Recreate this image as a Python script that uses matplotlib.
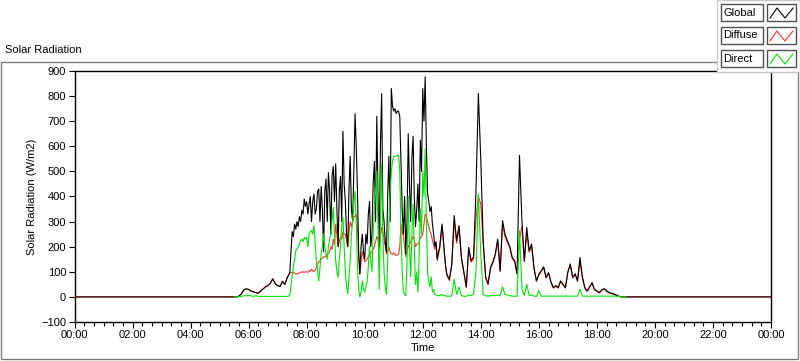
import matplotlib.pyplot as plt
from matplotlib.patches import Rectangle
from matplotlib.ticker import MultipleLocator, FuncFormatter

plt.rcParams['font.family'] = ['Liberation Sans', 'DejaVu Sans']

# sampling: 05:30-07:25 every 5 min, 07:30-12:57.5 every 2.5 min, 13:00-19:00 every 5 min
segments = [(330, 5, 24), (450, 2.5, 132), (780, 5, 73)]

global_w = [
    # 05:30 - 07:25
    0, 0, 3, 12, 28, 32, 30, 24, 20, 17, 15, 24, 32, 40, 45, 55, 72, 52, 45, 42, 62, 50, 78, 95,
    # 07:30 - 12:57.5
    260, 240, 290, 270, 300, 280, 320, 300, 345, 330, 390, 360,
    380, 330, 370, 400, 300, 380, 410, 330, 350, 420, 430, 300, 440, 350, 180, 420, 470, 300, 495, 420, 250, 480, 520, 380,
    530, 350, 200, 420, 480, 300, 660, 450, 380, 250, 200, 430, 560, 350, 300, 500, 730, 600, 420, 180, 92, 200, 250, 180,
    150, 250, 211, 330, 380, 200, 250, 450, 540, 300, 720, 400, 200, 600, 810, 350, 300, 220, 180, 400, 560, 300, 830, 760,
    740, 750, 730, 740, 740, 720, 540, 350, 250, 400, 172, 300, 650, 450, 300, 550, 640, 400, 280, 350, 450, 300, 624, 500,
    830, 700, 877, 600, 411, 380, 340, 360, 290, 250, 200, 220, 150, 180, 197, 250, 290, 230, 172, 120, 90, 80, 70, 100,
    # 13:00 - 19:00
    130, 324, 224, 284, 157, 100, 40, 197, 144, 160, 420, 810,
    544, 224, 80, 52, 117, 140, 172, 230, 104, 304, 250, 224,
    200, 157, 144, 92, 564, 304, 144, 277, 184, 211, 117, 64,
    90, 104, 120, 77, 97, 60, 37, 45, 37, 64, 50, 37,
    100, 131, 77, 92, 64, 157, 80, 37, 24, 40, 57, 30,
    24, 17, 28, 33, 24, 18, 15, 12, 8, 3, 0, 0,
    0,
]

diffuse_w = [
    0, 0, 3, 12, 28, 32, 30, 24, 20, 17, 15, 24, 32, 40, 45, 55, 72, 52, 45, 42, 62, 50, 78, 95,
    98, 96, 95, 92, 92, 94, 95, 97, 100, 99, 98, 100,
    100, 98, 105, 102, 110, 105, 100, 108, 115, 130, 140, 145, 150, 155, 160, 158, 165, 170, 172, 180, 200, 190, 230, 210,
    290, 250, 200, 220, 240, 230, 260, 250, 251, 220, 200, 250, 300, 280, 300, 320, 320, 330, 277, 160, 90, 140, 180, 160,
    140, 145, 150, 160, 170, 175, 180, 190, 200, 220, 240, 230, 190, 240, 277, 260, 230, 200, 170, 180, 200, 180, 172, 170,
    175, 170, 165, 168, 170, 200, 290, 260, 240, 200, 160, 180, 200, 210, 220, 230, 240, 230, 200, 210, 210, 220, 237, 240,
    250, 290, 330, 320, 300, 280, 260, 250, 224, 210, 190, 200, 145, 170, 190, 230, 280, 220, 165, 110, 85, 75, 65, 95,
    125, 300, 214, 270, 150, 95, 37, 190, 138, 150, 310, 400,
    370, 215, 75, 48, 112, 135, 166, 222, 100, 290, 240, 216,
    195, 153, 140, 89, 225, 280, 139, 250, 179, 203, 113, 62,
    85, 101, 117, 75, 94, 58, 35, 43, 35, 62, 48, 35,
    97, 128, 75, 90, 62, 140, 78, 35, 22, 38, 55, 28,
    22, 15, 26, 31, 22, 16, 13, 10, 6, 2, 0, 0,
    0,
]

direct_w = [
    0, 0, 1, 2, 5, 4, 6, 4, 2, 5, 2, 2, 2, 2, 2, 2, 2, 2, 2, 2, 2, 2, 2, 5,
    80, 120, 150, 184, 190, 200, 210, 224, 230, 220, 237, 230,
    237, 200, 250, 260, 264, 250, 284, 220, 144, 100, 64, 120, 172, 200, 251, 200, 172, 150, 200, 230, 250, 300, 357, 250,
    144, 100, 77, 150, 200, 280, 317, 200, 100, 40, 12, 80, 144, 250, 300, 380, 420, 300, 120, 30, 0, 20, 64, 30,
    20, 40, 60, 120, 200, 150, 100, 250, 350, 420, 500, 300, 30, 300, 530, 250, 100, 40, 10, 150, 300, 420, 500, 540,
    560, 560, 560, 565, 565, 500, 250, 100, 20, 10, 5, 150, 400, 200, 80, 250, 370, 200, 50, 100, 20, 150, 350, 250,
    500, 400, 590, 300, 100, 60, 40, 80, 20, 30, 10, 8, 5, 5, 5, 8, 10, 6, 5, 4, 3, 3, 3, 3,
    3, 70, 10, 40, 5, 3, 2, 8, 5, 10, 100, 411,
    170, 10, 5, 3, 5, 5, 5, 8, 4, 40, 10, 8,
    5, 3, 3, 2, 264, 30, 5, 50, 5, 8, 3, 2,
    25, 3, 3, 3, 3, 3, 3, 3, 3, 3, 3, 3,
    3, 3, 3, 3, 3, 30, 3, 3, 3, 3, 3, 3,
    3, 3, 3, 3, 3, 3, 3, 3, 3, 2, 0, 0,
    0,
]

series_names = ['Global', 'Diffuse', 'Direct']
series_colors = ['#000000', '#ff3030', '#00e600']

times = []
for t0, dt, n in segments:
    times += [t0 + i * dt for i in range(n)]

W, H = 800, 361
fig = plt.figure(figsize=(W / 100, H / 100), dpi=100)

# outer panel frame
fig.patches.append(Rectangle((1 / W, 1 - 359 / H), 797 / W, 297 / H, transform=fig.transFigure,
                             fill=False, edgecolor='#808080', lw=1.0))
fig.text(5 / W, 1 - 50 / H, 'Solar Radiation', fontsize=8, va='center', ha='left')

ax = fig.add_axes([74.5 / W, 1 - 322 / H, (771 - 74.5) / W, (322 - 71) / H])
# night hours are zero; diffuse under global, direct on top
lw = 0.8
ax.plot([0] + times + [1440], [0] + diffuse_w + [0], color=series_colors[1], lw=lw)
ax.plot([0] + times + [1440], [0] + global_w + [0], color=series_colors[0], lw=lw)
ax.plot(times, direct_w, color=series_colors[2], lw=lw)

ax.set_xlim(0, 1440)
ax.set_ylim(-100, 900)
ax.yaxis.set_major_locator(MultipleLocator(100))
ax.xaxis.set_major_locator(MultipleLocator(120))
ax.xaxis.set_minor_locator(MultipleLocator(20))
ax.xaxis.set_major_formatter(FuncFormatter(lambda v, p: '%02d:%02d' % ((int(v) // 60) % 24, int(v) % 60)))
ax.tick_params(axis='both', labelsize=8, direction='out', length=4, width=0.8, pad=2)
ax.tick_params(axis='x', which='minor', length=3, width=0.8)
for s in ax.spines.values():
    s.set_linewidth(1.0)
ax.set_xlabel('Time', fontsize=8, labelpad=2)
ax.set_ylabel('Solar Radiation (W/m2)', fontsize=8, labelpad=3)

# legend panel, top right
fig.patches.append(Rectangle((717 / W, 1 - 72 / H), 83 / W, 72 / H, transform=fig.transFigure,
                             facecolor='white', edgecolor='#c8c8c8', lw=1.0, zorder=5))
rows = [4, 27, 50]
for name, c, y0 in zip(series_names, series_colors, rows):
    fig.patches.append(Rectangle((721 / W, 1 - (y0 + 17) / H), 42 / W, 17 / H, transform=fig.transFigure,
                                 facecolor='white', edgecolor='#505050', lw=1.0, zorder=6))
    fig.text(723 / W, 1 - (y0 + 8.5) / H, name, fontsize=8, va='center', ha='left', zorder=7)
    fig.patches.append(Rectangle((767 / W, 1 - (y0 + 17) / H), 29 / W, 17 / H, transform=fig.transFigure,
                                 facecolor='white', edgecolor='#505050', lw=1.0, zorder=6))
    ix = [770 / W, 777 / W, 785 / W, 793 / W]
    iy = [1 - (y0 + 14) / H, 1 - (y0 + 4) / H, 1 - (y0 + 14) / H, 1 - (y0 + 4) / H]
    fig.add_artist(plt.Line2D(ix, iy, transform=fig.transFigure, color=c, lw=0.8, zorder=7))

fig.savefig('out.png', dpi=100)
